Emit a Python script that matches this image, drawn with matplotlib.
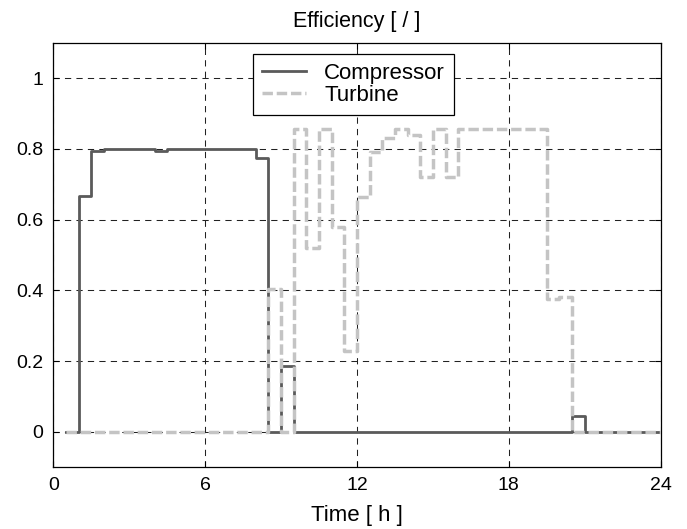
import numpy as np
import matplotlib
matplotlib.use("Agg")
import matplotlib.pyplot as plt

plt.rcParams["font.family"] = ["Liberation Sans", "DejaVu Sans"]

# half-hour time grid (interval edges, hours)
hours = np.arange(0.5, 24.01, 0.5)

# efficiency per half-hour interval
compressor = ([0.0, 0.667, 0.795] + [0.80] * 4 + [0.795] + [0.80] * 7
              + [0.775, 0.0, 0.185] + [0.0] * 22 + [0.045] + [0.0] * 6)
turbine = ([0.0] * 16 + [0.405, 0.0, 0.855, 0.52, 0.855, 0.58, 0.23, 0.665,
                         0.79, 0.83, 0.855, 0.84, 0.72, 0.855, 0.72]
           + [0.855] * 7 + [0.375, 0.38] + [0.0] * 7)

x_ticks = [0, 6, 12, 18, 24]
y_ticks = [0, 0.2, 0.4, 0.6, 0.8, 1]
y_tick_labels = ["0", "0.2", "0.4", "0.6", "0.8", "1"]

fig = plt.figure(figsize=(6.87, 5.29), dpi=100)
ax = fig.add_axes([0.0776, 0.1166, 0.8841, 0.8027])

ax.step(hours, compressor + [compressor[-1]], where="post",
        color="#5a5a5a", lw=2.0, label="Compressor", zorder=3)
ax.step(hours, turbine + [turbine[-1]], where="post",
        color="#c4c4c4", lw=2.5, linestyle=(0, (3.0, 1.1)),
        label="Turbine", zorder=4)

ax.set_xlim(0, 24)
ax.set_ylim(-0.1, 1.1)
ax.set_xticks(x_ticks)
ax.set_yticks(y_ticks)
ax.set_yticklabels(y_tick_labels)
ax.grid(True, color="#222222", lw=0.75, linestyle=(0, (6, 5)))
ax.tick_params(direction="in", length=4, width=0.8, top=True, right=True,
               labelsize=14, pad=7)
for sp in ax.spines.values():
    sp.set_linewidth(0.9)

ax.set_title("Efficiency [ / ]", fontsize=15.5, pad=11)
ax.set_xlabel("Time [ h ]", fontsize=16, labelpad=8)

leg = ax.legend(loc="upper left", bbox_to_anchor=(0.329, 0.973),
                borderaxespad=0, fontsize=16, fancybox=False,
                edgecolor="k", framealpha=1, handlelength=2.0,
                handletextpad=0.8, labelspacing=0.05, borderpad=0.4)
leg.get_frame().set_linewidth(0.9)

plt.savefig("out.png", dpi=100)
